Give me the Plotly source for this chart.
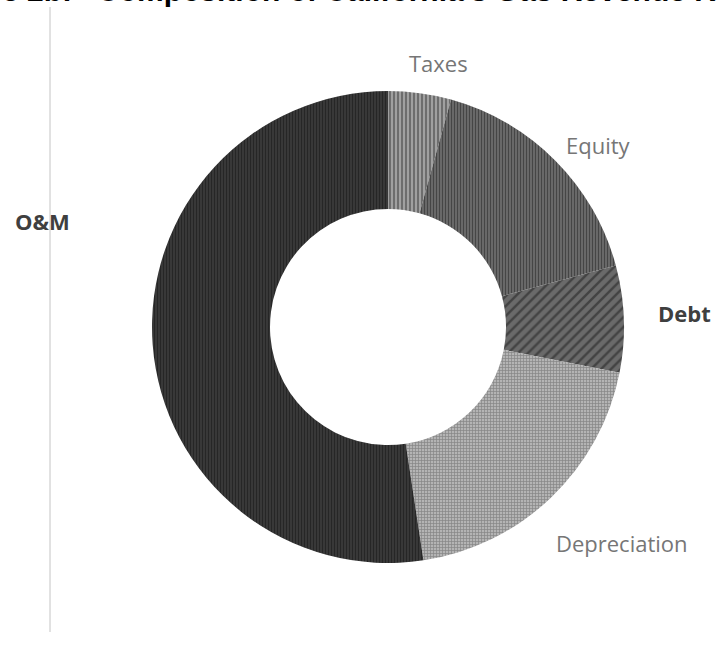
import plotly.graph_objects as go

# Revenue requirement components (share of total, %)
components = ["Taxes", "Equity", "Debt", "Depreciation", "O&M"]
shares = [4.3, 16.5, 7.3, 19.5, 52.4]

# Per-slice hatch styling
hatch_shapes = ["|", "|", "/", "+", "|"]
hatch_fg = ["#2e2e2e", "#161616", "#1c1c1c", "#555555", "#0e0e0e"]
hatch_bg = ["#a0a0a0", "#747474", "#6a6a6a", "#b4b4b4", "#3e3e3e"]
hatch_size = [4, 3, 7, 3, 3]
hatch_solidity = [0.45, 0.5, 0.35, 0.4, 0.5]

# Outside labels: (text, x px, y px, bold)
label_pos = {
    "Taxes": (438, 63, False),
    "Equity": (598, 145, False),
    "Debt": (684, 313, True),
    "Depreciation": (622, 543, False),
    "O&M": (42, 221, True),
}

W, H = 717, 647
cx, cy, r = 388, 327, 236

fig = go.Figure(
    go.Pie(
        labels=components,
        values=shares,
        hole=0.5,
        sort=False,
        direction="clockwise",
        rotation=0,
        textinfo="none",
        hoverinfo="label+percent",
        showlegend=False,
        marker=dict(
            colors=hatch_bg,
            line=dict(width=0),
            pattern=dict(
                shape=hatch_shapes,
                fgcolor=hatch_fg,
                bgcolor=hatch_bg,
                size=hatch_size,
                solidity=hatch_solidity,
                fillmode="overlay",
            ),
        ),
        domain=dict(
            x=[(cx - r) / W, (cx + r) / W],
            y=[1 - (cy + r) / H, 1 - (cy - r) / H],
        ),
    )
)

annotations = []
for name in components:
    px, py, bold = label_pos[name]
    annotations.append(
        dict(
            text=f"<b>{name}</b>" if bold else name,
            x=px / W,
            y=1 - py / H,
            xref="paper",
            yref="paper",
            xanchor="center",
            yanchor="middle",
            showarrow=False,
            font=dict(
                family="Open Sans",
                size=22,
                color="#3f3f3f" if bold else "#767676",
            ),
        )
    )

# Chart title (runs past the top edge)
annotations.append(
    dict(
        text="<b>Figure 2b:\u00a0\u00a0\u00a0Composition of California's Gas Revenue Requirement</b>",
        x=-75 / W,
        y=1 + 9 / H,
        xref="paper",
        yref="paper",
        xanchor="left",
        yanchor="middle",
        showarrow=False,
        font=dict(family="Liberation Sans", size=30, color="#000000"),
    )
)

fig.update_layout(
    width=W,
    height=H,
    margin=dict(l=0, r=0, t=0, b=0),
    paper_bgcolor="#ffffff",
    plot_bgcolor="#ffffff",
    annotations=annotations,
    shapes=[
        dict(
            type="line",
            xref="paper",
            yref="paper",
            x0=50 / W,
            x1=50 / W,
            y0=1 - 7 / H,
            y1=1 - 632 / H,
            line=dict(color="#c4c4c4", width=1),
        )
    ],
)

fig.write_html("out.html")
